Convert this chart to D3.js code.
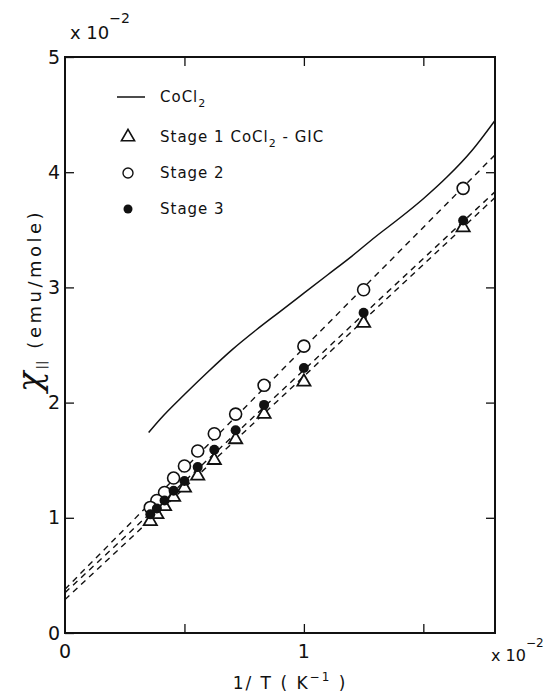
<!DOCTYPE html>
<html><head><meta charset="utf-8">
<script src="https://cdn.jsdelivr.net/npm/d3@7"></script>
<style>body{margin:0;background:#fff}svg{display:block}text{font-family:"DejaVu Sans",sans-serif;fill:#111}</style>
</head><body>
<script>
// Temperatures (K); x = 1/T in units of 1e-2 K^-1
const temps = [60, 80, 100, 120, 140, 160, 180, 200, 220, 240, 260, 280];
const stage1 = [3.52, 2.69, 2.18, 1.90, 1.68, 1.50, 1.365, 1.26, 1.18, 1.10, 1.03, 0.97];
const stage2 = [3.86, 2.98, 2.49, 2.15, 1.90, 1.73, 1.58, 1.45, 1.345, 1.22, 1.15, 1.09];
const stage3 = [3.58, 2.78, 2.30, 1.98, 1.76, 1.59, 1.44, 1.32, 1.235, 1.15, 1.08, 1.03];
// pristine CoCl2 curve
const cocl2X = [0.35, 0.4, 0.5, 0.6, 0.7, 0.8, 0.9, 1.0, 1.1, 1.2, 1.3, 1.4, 1.5, 1.6, 1.7, 1.8];
const cocl2Y = [1.74, 1.86, 2.07, 2.27, 2.46, 2.63, 2.79, 2.95, 3.11, 3.27, 3.44, 3.60, 3.77, 3.96, 4.18, 4.45];
// Curie-Weiss dashed fits: intercept, value at x = 1.8
const fitNames = ["Stage 1", "Stage 2", "Stage 3"];
const fitStart = [0.29, 0.38, 0.35];
const fitEnd = [3.78, 4.15, 3.83];
const xTicks = [0.5, 1, 1.5];
const xLabels = [0, 1];
const yTicks = [0, 1, 2, 3, 4, 5];

const W = 550, H = 694;
const svg = d3.select("body").append("svg").attr("width", W).attr("height", H);
const x = d3.scaleLinear().domain([0, 1.8]).range([65, 495]);
const y = d3.scaleLinear().domain([0, 5]).range([633, 57]);

svg.append("clipPath").attr("id", "c").append("rect")
  .attr("x", 65).attr("y", 57).attr("width", 430).attr("height", 576);

// axes (ticks inward)
const gL = svg.append("g").attr("transform", "translate(65,0)")
  .call(d3.axisLeft(y).tickValues(yTicks).tickSizeInner(-9).tickSizeOuter(0).tickPadding(5).tickFormat(d3.format("d")));
const gR = svg.append("g").attr("transform", "translate(495,0)")
  .call(d3.axisRight(y).tickValues([1, 2, 3, 4]).tickSizeInner(-9).tickSizeOuter(0).tickFormat(""));
const gB = svg.append("g").attr("transform", "translate(0,633)")
  .call(d3.axisBottom(x).tickValues(xTicks).tickSizeInner(-9).tickSizeOuter(0).tickFormat(""));
const gT = svg.append("g").attr("transform", "translate(0,57)")
  .call(d3.axisTop(x).tickValues(xTicks).tickSizeInner(-9).tickSizeOuter(0).tickFormat(""));
[gL, gR, gB, gT].forEach(g => {
  g.select(".domain").remove();
  g.selectAll(".tick line").attr("stroke", "#111").attr("stroke-width", 1.3);
});
gL.selectAll(".tick text").attr("font-size", 19).attr("font-family", "DejaVu Sans").attr("fill", "#111");

// x labels
svg.append("g").selectAll("text").data(xLabels).join("text")
  .attr("x", d => x(d)).attr("y", 658).attr("text-anchor", "middle")
  .attr("font-size", 19).text(d => d);

// frame
svg.append("rect").attr("x", 65).attr("y", 57).attr("width", 430).attr("height", 576)
  .attr("fill", "none").attr("stroke", "#111").attr("stroke-width", 2);

const plot = svg.append("g").attr("clip-path", "url(#c)");

// dashed fits
plot.selectAll("line.fit").data(fitStart).join("line").attr("class", "fit")
  .attr("x1", x(0)).attr("y1", d => y(d))
  .attr("x2", x(1.8)).attr("y2", (d, i) => y(fitEnd[i]))
  .attr("stroke", "#111").attr("stroke-width", 1.4).attr("stroke-dasharray", "6,5");

// solid CoCl2 curve
const line = d3.line().x(d => x(d[0])).y(d => y(d[1])).curve(d3.curveMonotoneX);
plot.append("path").datum(cocl2X.map((v, i) => [v, cocl2Y[i]]))
  .attr("d", line).attr("fill", "none").attr("stroke", "#111").attr("stroke-width", 1.5);

const invT = temps.map(t => 100 / t);
const tri = d3.symbol().type(d3.symbolTriangle).size(75);

plot.selectAll("path.s1").data(stage1).join("path").attr("class", "s1")
  .attr("d", tri).attr("transform", (d, i) => `translate(${x(invT[i])},${y(d)})`)
  .attr("fill", "#fff").attr("stroke", "#111").attr("stroke-width", 1.8);
plot.selectAll("circle.s2").data(stage2).join("circle").attr("class", "s2")
  .attr("cx", (d, i) => x(invT[i])).attr("cy", d => y(d)).attr("r", 6)
  .attr("fill", "#fff").attr("stroke", "#111").attr("stroke-width", 1.6);
plot.selectAll("circle.s3").data(stage3).join("circle").attr("class", "s3")
  .attr("cx", (d, i) => x(invT[i])).attr("cy", d => y(d)).attr("r", 5)
  .attr("fill", "#111");

// legend
const lg = svg.append("g");
lg.append("line").attr("x1", 117).attr("x2", 145).attr("y1", 97).attr("y2", 97)
  .attr("stroke", "#111").attr("stroke-width", 1.5);
lg.append("path").attr("d", tri).attr("transform", "translate(128,137)")
  .attr("fill", "#fff").attr("stroke", "#111").attr("stroke-width", 1.6);
lg.append("circle").attr("cx", 128).attr("cy", 173).attr("r", 5).attr("fill", "#fff")
  .attr("stroke", "#111").attr("stroke-width", 1.4);
lg.append("circle").attr("cx", 128).attr("cy", 209).attr("r", 4.5).attr("fill", "#111");
const lt = (yy, parts) => {
  const t = lg.append("text").attr("x", 160).attr("y", yy).attr("font-size", 15).attr("letter-spacing", 1);
  parts.forEach(p => {
    const s = t.append("tspan").text(p.t);
    if (p.sub) s.attr("font-size", 11).attr("dy", 5);
    if (p.up) s.attr("dy", -5);
  });
};
lt(102, [{t: "CoCl"}, {t: "2", sub: 1}]);
lt(142, [{t: "Stage 1  CoCl"}, {t: "2", sub: 1}, {t: " - GIC", up: 1}]);
lt(178, [{t: "Stage 2"}]);
lt(214, [{t: "Stage 3"}]);

// multipliers
const mult = (xx, yy, fs) => {
  const t = svg.append("text").attr("x", xx).attr("y", yy).attr("font-size", fs);
  t.append("tspan").text("x 10");
  t.append("tspan").text("\u22122").attr("font-size", fs - 4).attr("dy", -fs * 0.9);
};
mult(70, 39, 18);
mult(491, 661, 16);

// axis titles
const xt = svg.append("text").attr("x", 290).attr("y", 689).attr("text-anchor", "middle")
  .attr("font-size", 17).attr("letter-spacing", 2);
xt.append("tspan").text("1/ T ( K");
xt.append("tspan").text("\u22121").attr("font-size", 12).attr("dy", -8);
xt.append("tspan").text(" )").attr("dy", 8);

const yt = svg.append("text").attr("transform", "translate(41,392) rotate(-90)")
  .attr("text-anchor", "start").attr("font-size", 18);
yt.append("tspan").text("\u03c7").attr("font-size", 34).attr("font-style", "italic").attr("font-family", "DejaVu Serif");
yt.append("tspan").text("||").attr("font-size", 13).attr("dx", 2).attr("dy", 5);
yt.append("tspan").text("(emu/mole)").attr("dx", 12).attr("dy", -5).attr("letter-spacing", 3.5);
</script>
</body></html>
